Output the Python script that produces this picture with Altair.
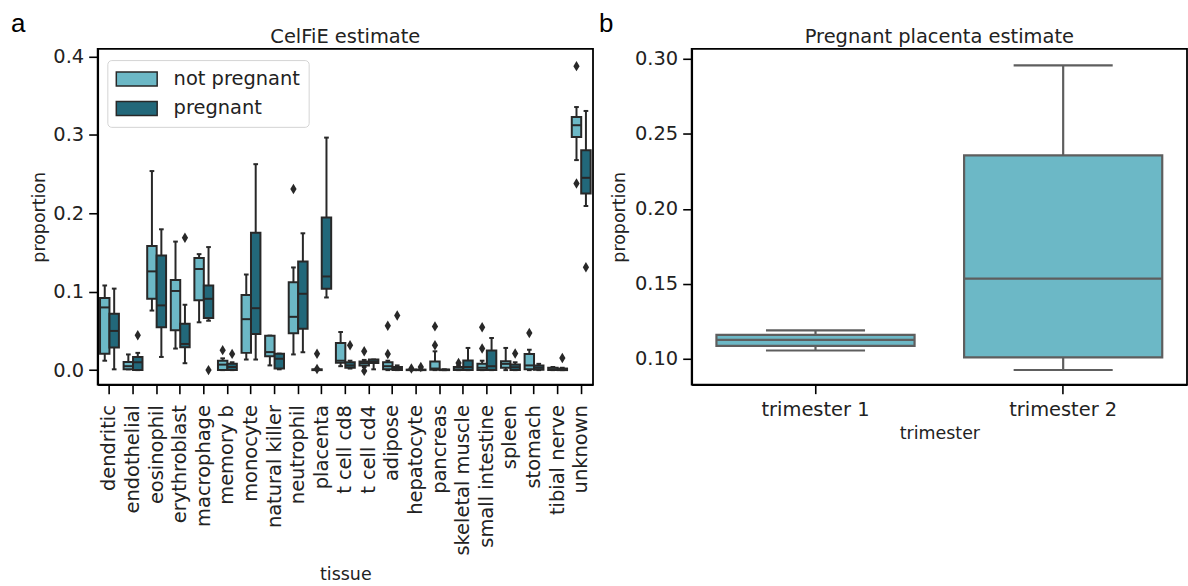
import altair as alt
import pandas as pd

# ---- panel a: CelFiE estimates per tissue -------------------------------
TISSUES = ["dendritic", "endothelial", "eosinophil", "erythroblast", "macrophage",
           "memory b", "monocyte", "natural killer", "neutrophil", "placenta",
           "t cell cd8", "t cell cd4", "adipose", "hepatocyte", "pancreas",
           "skeletal muscle", "small intestine", "spleen", "stomach",
           "tibial nerve", "unknown"]
GROUPS = ["not pregnant", "pregnant"]

# box summaries (whisker low, Q1, median, Q3, whisker high), not pregnant
NP_LO = [0.012, 0.001, 0.076, 0.0275, 0.061, 0.0, 0.0135, 0.006, 0.020, 0.0, 0.005,
         0.004, 0.0, 0.0, 0.0, 0.0, 0.0, 0.0, 0.0, 0.0, 0.268]
NP_Q1 = [0.021, 0.001, 0.091, 0.051, 0.089, 0.0, 0.022, 0.0177, 0.047, 0.0, 0.0095,
         0.006, 0.001, 0.0, 0.0005, 0.0, 0.0, 0.003, 0.001, 0.0, 0.2976]
NP_MED = [0.080, 0.005, 0.126, 0.101, 0.129, 0.007, 0.065, 0.023, 0.068, 0.0005, 0.012,
          0.009, 0.005, 0.0003, 0.002, 0.001, 0.003, 0.008, 0.006, 0.001, 0.3125]
NP_Q3 = [0.092, 0.0105, 0.1585, 0.115, 0.143, 0.012, 0.096, 0.044, 0.112, 0.001, 0.0346,
         0.011, 0.010, 0.0006, 0.011, 0.004, 0.008, 0.0113, 0.0206, 0.003, 0.323]
NP_HI = [0.108, 0.020, 0.254, 0.164, 0.148, 0.015, 0.122, 0.044, 0.131, 0.002, 0.0486,
         0.013, 0.012, 0.001, 0.024, 0.006, 0.012, 0.0283, 0.026, 0.004, 0.3357]

# box summaries, pregnant
P_LO = [0.001, 0.0, 0.0168, 0.0088, 0.063, 0.0, 0.0135, 0.001, 0.0228, 0.0927, 0.002,
        0.001, 0.0, 0.0, 0.0, 0.0, 0.0, 0.0, 0.0, 0.0, 0.2094]
P_Q1 = [0.029, 0.0, 0.0546, 0.0291, 0.0664, 0.0, 0.046, 0.002, 0.0529, 0.1038, 0.003,
        0.009, 0.0, 0.0, 0.0, 0.0, 0.0, 0.0, 0.0005, 0.0, 0.2254]
P_MED = [0.050, 0.010, 0.0826, 0.0334, 0.091, 0.004, 0.079, 0.0145, 0.0974, 0.1195, 0.006,
         0.011, 0.002, 0.0003, 0.0003, 0.004, 0.005, 0.0037, 0.003, 0.001, 0.2454]
P_Q3 = [0.072, 0.0168, 0.1462, 0.0593, 0.108, 0.008, 0.1754, 0.021, 0.1386, 0.1949, 0.010,
        0.0135, 0.004, 0.0006, 0.0008, 0.0122, 0.025, 0.0071, 0.006, 0.002, 0.2807]
P_HI = [0.104, 0.022, 0.1797, 0.0834, 0.157, 0.010, 0.2628, 0.021, 0.1746, 0.2967, 0.012,
        0.0135, 0.006, 0.001, 0.001, 0.0283, 0.041, 0.010, 0.008, 0.003, 0.3307]

# samples outside the whiskers
FLIER_TISSUE = ["endothelial", "erythroblast", "macrophage", "memory b", "memory b",
                "neutrophil", "placenta", "placenta", "t cell cd8", "t cell cd4",
                "t cell cd4", "adipose", "adipose", "adipose", "hepatocyte", "hepatocyte",
                "pancreas", "pancreas", "skeletal muscle", "small intestine",
                "small intestine", "spleen", "stomach", "tibial nerve",
                "unknown", "unknown", "unknown"]
FLIER_GROUP = ["pregnant", "pregnant", "pregnant", "not pregnant", "pregnant",
               "not pregnant", "not pregnant", "not pregnant", "pregnant", "not pregnant",
               "not pregnant", "not pregnant", "not pregnant", "pregnant", "not pregnant",
               "pregnant", "not pregnant", "not pregnant", "not pregnant", "not pregnant",
               "not pregnant", "pregnant", "not pregnant", "pregnant",
               "not pregnant", "not pregnant", "pregnant"]
FLIER_VALUE = [0.0444, 0.169, 0.0, 0.0255, 0.0207,
               0.231, 0.021, 0.0015, 0.0317, 0.024,
               -0.001, 0.0206, 0.0567, 0.0698, 0.002,
               0.004, 0.0317, 0.0558, 0.009, 0.0275,
               0.0546, 0.0211, 0.0474, 0.0155,
               0.3879, 0.2382, 0.1313]

# ---- panel b: placenta estimate in pregnant samples by trimester --------
TRIMESTERS = ["trimester 1", "trimester 2"]
TRI_LO = [0.1055, 0.0925]
TRI_Q1 = [0.1086, 0.1009]
TRI_MED = [0.1126, 0.1535]
TRI_Q3 = [0.1160, 0.2357]
TRI_HI = [0.1190, 0.2958]

LIGHT = "#6cb8c6"
DARK = "#22687a"
EDGE = "#282828"
EDGE_B = "#5e5e5e"
INK = "#222222"
FONT = "DejaVu Sans"
LETTER_FONT = "Liberation Sans"
THIN_DIAMOND = "M0,-1L0.6,0L0,1L-0.6,0Z"
LEGEND_PATCH = "M-1,-0.7H3.1V0.7H-1Z"

W, H = 497, 337

rows = []
for i, t in enumerate(TISSUES):
    rows.append({"tissue": t, "group": GROUPS[0], "lo": NP_LO[i], "q1": NP_Q1[i],
                 "med": NP_MED[i], "q3": NP_Q3[i], "hi": NP_HI[i]})
    rows.append({"tissue": t, "group": GROUPS[1], "lo": P_LO[i], "q1": P_Q1[i],
                 "med": P_MED[i], "q3": P_Q3[i], "hi": P_HI[i]})
box_df = pd.DataFrame(rows)
flier_df = pd.DataFrame({"tissue": FLIER_TISSUE, "group": FLIER_GROUP, "value": FLIER_VALUE})
tri_df = pd.DataFrame({"trimester": TRIMESTERS, "lo": TRI_LO, "q1": TRI_Q1,
                       "med": TRI_MED, "q3": TRI_Q3, "hi": TRI_HI})


def heading(letter, title, letter_dx):
    """Panel letter plus a centred heading above the plot area."""
    let = alt.Chart(pd.DataFrame({"panel": [letter]})).mark_text(
        font=LETTER_FONT, fontSize=26, color="black", align="left", baseline="top"
    ).encode(text="panel:N", x=alt.value(letter_dx), y=alt.value(-38))
    ttl = alt.Chart(pd.DataFrame({"heading": [title]})).mark_text(
        font=FONT, fontSize=19.5, color=INK, align="center", baseline="alphabetic"
    ).encode(text="heading:N", x=alt.value(W / 2), y=alt.value(-6))
    return [let, ttl]


# ---- left panel ----------------------------------------------------------
x_a = alt.X("tissue:N", sort=TISSUES,
            scale=alt.Scale(domain=TISSUES, paddingInner=0, paddingOuter=0),
            axis=alt.Axis(title="tissue", labelAngle=270, labelPadding=11, titlePadding=10))
off_a = alt.XOffset("group:N", sort=GROUPS,
                    scale=alt.Scale(domain=GROUPS, paddingInner=0, paddingOuter=0.25))
y_scale_a = alt.Scale(domain=[-0.0186, 0.410], nice=False, zero=False)
y_axis_a = alt.Axis(title="proportion", values=[0.0, 0.1, 0.2, 0.3, 0.4], format=".1f",
                    titlePadding=4)


def ya(field):
    return alt.Y(f"{field}:Q", scale=y_scale_a, axis=y_axis_a)


LW = 2.0
base_a = alt.Chart(box_df).encode(x=x_a, xOffset=off_a)
whisk_lo_a = base_a.mark_rule(color=EDGE, strokeWidth=LW).encode(y=ya("lo"), y2="q1:Q")
whisk_hi_a = base_a.mark_rule(color=EDGE, strokeWidth=LW).encode(y=ya("q3"), y2="hi:Q")
cap_lo_a = base_a.mark_tick(color=EDGE, size=4.7, thickness=LW, opacity=1).encode(y=ya("lo"))
cap_hi_a = base_a.mark_tick(color=EDGE, size=4.7, thickness=LW, opacity=1).encode(y=ya("hi"))
boxes_a = base_a.mark_bar(stroke=EDGE, strokeWidth=LW, opacity=1).encode(
    y=ya("q1"), y2="q3:Q",
    color=alt.Color("group:N", scale=alt.Scale(domain=GROUPS, range=[LIGHT, DARK]),
                    legend=alt.Legend(title=None, orient="none", legendX=9.7, legendY=11.3,
                                      symbolType=LEGEND_PATCH, symbolSize=400,
                                      symbolStrokeColor=EDGE, symbolStrokeWidth=1.5,
                                      symbolOpacity=1, labelFont=FONT, labelFontSize=19.5,
                                      labelColor=INK, labelOffset=36.5, labelLimit=300,
                                      padding=8, rowPadding=8.6, cornerRadius=4,
                                      strokeColor="#d4d4d4", fillColor="white")))
med_a = base_a.mark_tick(color=EDGE, size=9.3, thickness=LW, opacity=1).encode(y=ya("med"))
fliers_a = alt.Chart(flier_df).mark_point(shape=THIN_DIAMOND, filled=True, size=110,
                                          color=EDGE, opacity=1).encode(
    x=x_a, xOffset=off_a, y=ya("value"))

left = alt.layer(whisk_lo_a, whisk_hi_a, cap_lo_a, cap_hi_a, boxes_a, med_a, fliers_a,
                 *heading("a", "CelFiE estimate", -87)).properties(width=W, height=H)

# ---- right panel ---------------------------------------------------------
x_b = alt.X("trimester:N", sort=TRIMESTERS,
            scale=alt.Scale(domain=TRIMESTERS, paddingInner=0.2, paddingOuter=0.1),
            axis=alt.Axis(title="trimester", labelAngle=0, labelPadding=7, titlePadding=5))
y_scale_b = alt.Scale(domain=[0.0827, 0.3068], nice=False, zero=False)
y_axis_b = alt.Axis(title="proportion", values=[0.10, 0.15, 0.20, 0.25, 0.30], format=".2f",
                    titlePadding=6)


def yb(field):
    return alt.Y(f"{field}:Q", scale=y_scale_b, axis=y_axis_b)


LWB = 2.2
base_b = alt.Chart(tri_df).encode(x=x_b)
whisk_lo_b = base_b.mark_rule(color=EDGE_B, strokeWidth=LWB).encode(y=yb("lo"), y2="q1:Q")
whisk_hi_b = base_b.mark_rule(color=EDGE_B, strokeWidth=LWB).encode(y=yb("q3"), y2="hi:Q")
cap_lo_b = base_b.mark_tick(color=EDGE_B, size=99.4, thickness=LWB, opacity=1).encode(y=yb("lo"))
cap_hi_b = base_b.mark_tick(color=EDGE_B, size=99.4, thickness=LWB, opacity=1).encode(y=yb("hi"))
boxes_b = base_b.mark_bar(color=LIGHT, stroke=EDGE_B, strokeWidth=LWB, opacity=1).encode(
    y=yb("q1"), y2="q3:Q")
med_b = base_b.mark_tick(color=EDGE_B, size=198.8, thickness=LWB, opacity=1).encode(y=yb("med"))

right = alt.layer(whisk_lo_b, whisk_hi_b, cap_lo_b, cap_hi_b, boxes_b, med_b,
                  *heading("b", "Pregnant placenta estimate", -93)).properties(width=W, height=H)

chart = alt.hconcat(left, right, spacing=99, bounds="flush").properties(
    padding={"left": 10, "top": 9, "right": 0, "bottom": 0}
).configure(font=FONT).configure_axis(
    domainColor="black", domainWidth=1.8, tickColor="black", tickWidth=1.6, tickSize=9,
    labelFont=FONT, labelFontSize=19.5, labelColor=INK, labelPadding=5,
    titleFont=FONT, titleFontSize=17.5, titleColor=INK, titleFontWeight="normal",
    grid=False
).configure_view(stroke="black", strokeWidth=1.8)

chart.save("out.html", embed_options={"renderer": "svg", "actions": False})
